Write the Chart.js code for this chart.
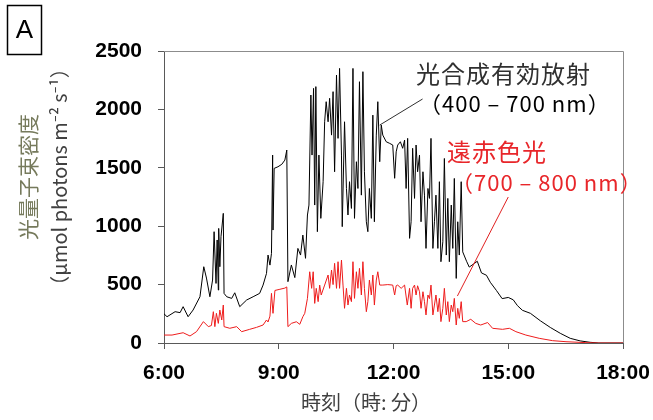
<!DOCTYPE html>
<html>
<head>
<meta charset="utf-8">
<script src="https://cdn.jsdelivr.net/npm/chart.js@4.4.1/dist/chart.umd.min.js"></script>
<style>
  body { margin: 0; background: #fff; }
  #wrap { width: 653px; height: 420px; }
</style>
</head>
<body>
<div id="wrap"><canvas id="lightChart" width="653" height="420"></canvas></div>
<script>
// time of day in decimal hours, values in umol photons m-2 s-1
const parTime = [
	6.00, 6.08, 6.29, 6.42, 6.50, 6.63, 6.76, 6.94, 7.04, 7.11, 7.20, 7.27, 7.31, 7.36, 7.39, 7.42, 7.43, 7.46, 7.49,
	7.55, 7.57, 7.64, 7.77, 7.85, 7.98, 8.16, 8.33, 8.50, 8.59, 8.68, 8.72, 8.77, 8.81, 8.84, 8.85, 8.88, 8.98,
	9.08, 9.16, 9.21, 9.24, 9.33, 9.42, 9.50, 9.57, 9.63, 9.70, 9.75, 9.79, 9.84, 9.87, 9.91, 9.94, 9.97,
	10.01, 10.05, 10.10, 10.16, 10.20, 10.24, 10.29, 10.33, 10.38, 10.42, 10.46, 10.51, 10.55, 10.59, 10.64, 10.66,
	10.72, 10.77, 10.81, 10.85, 10.90, 10.94, 10.98, 11.03, 11.07, 11.11, 11.16, 11.20, 11.24, 11.29, 11.33, 11.37,
	11.42, 11.46, 11.50, 11.55, 11.59, 11.64, 11.68, 11.72, 11.81, 11.90, 11.98, 12.03, 12.07, 12.11, 12.18, 12.24,
	12.29, 12.33, 12.37, 12.42, 12.46, 12.50, 12.55, 12.59, 12.63, 12.68, 12.72, 12.77, 12.81, 12.85, 12.90, 12.94,
	12.98, 13.03, 13.07, 13.11, 13.16, 13.20, 13.24, 13.29, 13.33, 13.38, 13.42, 13.46, 13.51, 13.55, 13.59, 13.64,
	13.68, 13.72, 13.77, 13.81, 13.91, 13.98, 14.11, 14.19, 14.30, 14.43, 14.53, 14.69, 14.84, 15.00, 15.13, 15.24,
	15.37, 15.58, 15.84, 16.10, 16.36, 16.62, 16.88, 17.14, 17.37, 18.00
];
const parValue = [
	250, 225, 268, 260, 311, 225, 282, 396, 653, 556, 396, 539, 953, 510, 882, 453, 981, 653, 910,
	1110, 425, 396, 382, 430, 311, 368, 396, 425, 496, 596, 753, 667, 767, 1609, 967, 1495, 1509,
	1530, 1566, 1652, 525, 668, 560, 810, 753, 924, 725, 1096, 1181, 2123, 1609, 2180, 1181, 2195,
	953, 1609, 1067, 1381, 1894, 2066, 1894, 2095, 1780, 2152, 1466, 2294, 1752, 2351, 1609, 996,
	1894, 1323, 1096, 1381, 1152, 2351, 1067, 1552, 1323, 2237, 1266, 2323, 1466, 1038, 953, 1323,
	1067, 1951, 1038, 1780, 2066, 1552, 1866, 1780, 1723, 1709, 1695, 1410, 1637, 1695, 1723, 1667,
	1737, 1323, 1752, 896, 1038, 1667, 1238, 1695, 1466, 1609, 1038, 1466, 1266, 810, 1323, 1238,
	1752, 810, 1038, 1266, 810, 1381, 696, 867, 1580, 753, 1238, 696, 1181, 810, 1409, 553,
	1038, 753, 1381, 780, 700, 650, 680, 700, 600, 580, 520, 450, 380, 390, 370, 320,
	280, 254, 190, 133, 83, 40, 18, 6, 0, 0
];

const farRedTime = [
	6.00, 6.21, 6.50, 6.68, 6.85, 7.03, 7.16, 7.24, 7.29, 7.33, 7.37, 7.42, 7.46, 7.51, 7.55, 7.57, 7.72, 7.90,
	8.03, 8.24, 8.42, 8.59, 8.68, 8.72, 8.77, 8.81, 8.85, 8.90, 9.03, 9.16, 9.21, 9.24, 9.33, 9.46, 9.55, 9.63,
	9.68, 9.75, 9.81, 9.86, 9.90, 9.94, 9.98, 10.03, 10.07, 10.11, 10.20, 10.29, 10.33, 10.38, 10.42, 10.46,
	10.51, 10.55, 10.59, 10.64, 10.68, 10.72, 10.77, 10.81, 10.85, 10.90, 10.94, 10.98, 11.03, 11.07, 11.11,
	11.16, 11.20, 11.24, 11.29, 11.33, 11.37, 11.42, 11.46, 11.50, 11.55, 11.59, 11.64, 11.72, 11.85, 11.98,
	12.03, 12.07, 12.11, 12.20, 12.29, 12.36, 12.42, 12.46, 12.50, 12.55, 12.59, 12.63, 12.68, 12.72, 12.77,
	12.81, 12.85, 12.90, 12.94, 12.98, 13.03, 13.07, 13.11, 13.16, 13.20, 13.24, 13.29, 13.33, 13.38, 13.42,
	13.46, 13.51, 13.55, 13.59, 13.64, 13.68, 13.72, 13.77, 13.81, 13.90, 14.02, 14.15, 14.28, 14.46, 14.59,
	14.85, 15.03, 15.20, 15.46, 15.81, 16.16, 16.51, 17.03, 17.37, 18.00
];
const farRedValue = [
	68, 68, 88, 60, 97, 183, 140, 150, 268, 140, 254, 168, 282, 197, 325, 140, 126, 140,
	97, 117, 134, 154, 197, 180, 230, 425, 254, 450, 460, 470, 480, 140, 168, 182, 160, 225,
	254, 382, 610, 468, 610, 339, 468, 354, 496, 411, 496, 582, 468, 625, 500, 682,
	468, 696, 468, 710, 496, 297, 468, 325, 411, 354, 696, 382, 610, 468, 639,
	411, 696, 468, 268, 354, 539, 411, 582, 325, 539, 610, 496, 496, 500, 496,
	411, 490, 496, 468, 496, 325, 468, 297, 468, 496, 411, 490, 439, 297, 439,
	354, 240, 411, 380, 496, 240, 325, 411, 268, 382, 183, 297, 468, 240, 354,
	183, 325, 268, 382, 154, 297, 211, 354, 183, 183, 203, 168, 154, 175, 126,
	117, 126, 97, 68, 40, 20, 11, 3, 0, 0
];

const yTicks = [0, 500, 1000, 1500, 2000, 2500];
const xTicks = [6, 9, 12, 15, 18];

// callout anchors (in data units: hours, umol)
const parCallout = { from: [11.64, 1866], to: [12.76, 2089] };
const farRedCallout = { from: [13.67, 402], to: [15.0, 1250] };

function toPoints(times, values) {
	return times.map((t, i) => ({ x: t, y: values[i] }));
}

const tickFont = { family: "'Liberation Sans', Arial, sans-serif", size: 21, weight: "bold" };
const cjk = "'Noto Sans CJK JP', 'Noto Sans', sans-serif";

// frame, panel letter, axis titles and the two callouts
const decorations = {
	id: "decorations",
	beforeDatasetsDraw(chart) {
		const { ctx, chartArea: a } = chart;
		ctx.save();
		ctx.strokeStyle = "#8c8c8c";
		ctx.lineWidth = 1;
		ctx.beginPath();
		ctx.moveTo(a.left, a.top + 0.5);
		ctx.lineTo(a.right + 0.5, a.top + 0.5);
		ctx.lineTo(a.right + 0.5, a.bottom);
		ctx.stroke();
		ctx.restore();
	},
	afterDraw(chart) {
		const { ctx, scales } = chart;
		const x = scales.x, y = scales.y;
		ctx.save();

		// panel letter
		ctx.strokeStyle = "#000";
		ctx.lineWidth = 1.5;
		ctx.strokeRect(7.5, 5.5, 34, 49);
		ctx.fillStyle = "#000";
		ctx.font = "26px 'Liberation Sans', Arial, sans-serif";
		ctx.textAlign = "center";
		ctx.textBaseline = "middle";
		ctx.fillText("A", 24.5, 31);

		// y axis title, two rotated lines
		ctx.save();
		ctx.translate(28, 177);
		ctx.rotate(-Math.PI / 2);
		ctx.font = "21px " + cjk;
		ctx.fillStyle = "#767a5c";
		ctx.fillText("光量子束密度", 0, 0);
		ctx.restore();
		ctx.save();
		ctx.translate(59, 177);
		ctx.rotate(-Math.PI / 2);
		ctx.font = "20px " + cjk;
		ctx.fillStyle = "#404040";
		ctx.fillText("（µmol photons m⁻² s⁻¹）", 0, 0);
		ctx.restore();

		// x axis title
		ctx.font = "20px " + cjk;
		ctx.fillStyle = "#404040";
		ctx.textAlign = "left";
		ctx.fillText("時刻（時: 分）", 301, 402);

		// callout lines
		ctx.lineWidth = 1;
		ctx.strokeStyle = "#303030";
		ctx.beginPath();
		ctx.moveTo(x.getPixelForValue(parCallout.from[0]), y.getPixelForValue(parCallout.from[1]));
		ctx.lineTo(x.getPixelForValue(parCallout.to[0]), y.getPixelForValue(parCallout.to[1]));
		ctx.stroke();
		ctx.strokeStyle = "#e02020";
		ctx.beginPath();
		ctx.moveTo(x.getPixelForValue(farRedCallout.from[0]), y.getPixelForValue(farRedCallout.from[1]));
		ctx.lineTo(x.getPixelForValue(farRedCallout.to[0]), y.getPixelForValue(farRedCallout.to[1]));
		ctx.stroke();

		// callout labels
		ctx.textAlign = "left";
		ctx.letterSpacing = "1px";
		ctx.font = "24px " + cjk;
		ctx.fillStyle = "#303030";
		ctx.fillText("光合成有効放射", 416, 74);
		ctx.font = "22px " + cjk;
		ctx.fillStyle = "#000";
		ctx.fillText("（400 – 700 nm）", 419, 104);
		ctx.font = "24px " + cjk;
		ctx.fillStyle = "#e8262a";
		ctx.fillText("遠赤色光", 447, 152);
		ctx.font = "22px " + cjk;
		ctx.fillText("（700 – 800 nm）", 451, 183);

		ctx.restore();
	},
};

const ctx = document.getElementById("lightChart").getContext("2d");
new Chart(ctx, {
	type: "line",
	data: {
		datasets: [
			{
				label: "光合成有効放射 (400 – 700 nm)",
				data: toPoints(parTime, parValue),
				borderColor: "#000000",
				borderWidth: 1,
				pointRadius: 0,
				tension: 0,
				order: 1,
			},
			{
				label: "遠赤色光 (700 – 800 nm)",
				data: toPoints(farRedTime, farRedValue),
				borderColor: "#ee1c1c",
				borderWidth: 1,
				pointRadius: 0,
				tension: 0,
				order: 0,
			},
		],
	},
	options: {
		responsive: false,
		animation: false,
		layout: { padding: { left: 0, right: 30, top: 51, bottom: 0 } },
		plugins: {
			legend: { display: false },
			tooltip: { enabled: false },
		},
		scales: {
			x: {
				type: "linear",
				min: 6,
				max: 18,
				afterBuildTicks: (scale) => {
					scale.ticks = xTicks.map((v) => ({ value: v }));
				},
				afterFit: (scale) => {
					scale.height = 77;
					scale.paddingLeft = 0;
					scale.paddingRight = 0;
				},
				grid: { drawOnChartArea: false, drawTicks: true, tickLength: 6, color: "#595959" },
				border: { display: true, color: "#595959", width: 1 },
				ticks: {
					font: tickFont,
					color: "#000",
					padding: 12,
					maxRotation: 0,
					callback: (v) => v + ":00",
				},
			},
			y: {
				min: 0,
				max: 2500,
				afterBuildTicks: (scale) => {
					scale.ticks = yTicks.map((v) => ({ value: v }));
				},
				afterFit: (scale) => {
					scale.width = 164;
				},
				grid: { drawOnChartArea: false, drawTicks: true, tickLength: 6, color: "#595959" },
				border: { display: true, color: "#595959", width: 1 },
				ticks: {
					font: tickFont,
					color: "#000",
					padding: 16,
					callback: (v) => String(v),
				},
			},
		},
	},
	plugins: [decorations],
});
</script>
</body>
</html>
